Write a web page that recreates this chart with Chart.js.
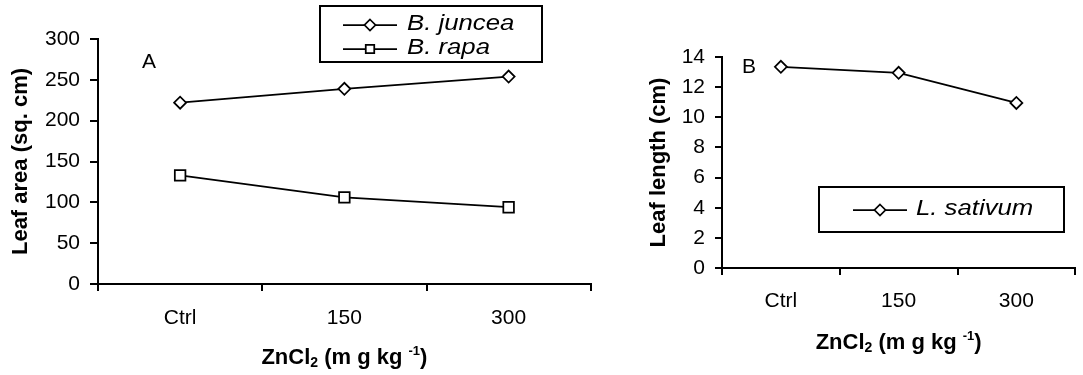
<!DOCTYPE html>
<html>
<head>
<meta charset="utf-8">
<script src="https://cdn.jsdelivr.net/npm/chart.js"></script>
<style>
  html, body { margin: 0; padding: 0; background: #fff; }
  #wrap { position: relative; width: 1083px; height: 375px; overflow: hidden; }
  #chartA { position: absolute; left: 0; top: 0; }
  #chartB { position: absolute; left: 600px; top: 0; }
</style>
</head>
<body>
<div id="wrap">
  <canvas id="chartA" width="600" height="375"></canvas>
  <canvas id="chartB" width="483" height="375"></canvas>
</div>
<script>
/* Two-panel figure: leaf area (A) and leaf length (B) vs ZnCl2 dose. */

// ── data ────────────────────────────────────────────
const doses = ["Ctrl", "150", "300"];

const junceaArea   = [222, 239, 254];
const rapaArea     = [133, 106, 94];
const sativumLength = [13.35, 12.95, 10.95];

const areaTicks   = { min: 0, max: 300, step: 50 };
const lengthTicks = { min: 0, max: 14, step: 2 };

const seriesNamesA = ["B. juncea", "B. rapa"];
const seriesNamesB = ["L. sativum"];

const yTitleA = "Leaf area (sq. cm)";
const yTitleB = "Leaf length (cm)";

// x title pieces: text, font size, baseline shift (sub/superscript)
const xTitleParts = [
  { t: "ZnCl",      s: 22, dy: 0 },
  { t: "2",         s: 14, dy: 3 },
  { t: " (m g kg ", s: 22, dy: 0 },
  { t: "-1",        s: 13, dy: -9 },
  { t: ")",         s: 22, dy: 0 },
];

// ── shared look ─────────────────────────────────────
const FONT = "'Liberation Sans', Arial, sans-serif";
Chart.defaults.font.family = FONT;
Chart.defaults.color = "#000";

const marker = (ctx, style, x, y, r) => {
  ctx.beginPath();
  if (style === "rect") {
    const h = r * Math.SQRT1_2;
    ctx.rect(x - h, y - h, 2 * h, 2 * h);
  } else {
    ctx.moveTo(x, y - r);
    ctx.lineTo(x + r, y);
    ctx.lineTo(x, y + r);
    ctx.lineTo(x - r, y);
    ctx.closePath();
  }
  ctx.fillStyle = "#fff";
  ctx.fill();
  ctx.lineWidth = 1.75;
  ctx.strokeStyle = "#000";
  ctx.stroke();
};

const drawXTitle = (ctx, cx, baseline) => {
  let total = 0;
  xTitleParts.forEach((p) => {
    ctx.font = "bold " + p.s + "px " + FONT;
    p.w = ctx.measureText(p.t).width;
    total += p.w;
  });
  let x = cx - total / 2;
  ctx.textAlign = "left";
  ctx.textBaseline = "alphabetic";
  xTitleParts.forEach((p) => {
    ctx.font = "bold " + p.s + "px " + FONT;
    ctx.fillText(p.t, x, baseline + p.dy);
    x += p.w;
  });
};

// panel letter, boxed legend and x title
const deco = {
  id: "deco",
  afterDraw(chart, args, o) {
    const ctx = chart.ctx;
    const area = chart.chartArea;
    ctx.save();
    ctx.fillStyle = "#000";

    ctx.font = "21px " + FONT;
    ctx.textAlign = "center";
    ctx.textBaseline = "alphabetic";
    ctx.fillText(o.letter, o.letterX, o.letterY);

    drawXTitle(ctx, (area.left + area.right) / 2, o.titleY);

    const b = o.box;
    ctx.lineWidth = 2;
    ctx.strokeStyle = "#000";
    ctx.strokeRect(b.x, b.y, b.w, b.h);

    chart.data.datasets.forEach((ds, i) => {
      const y = o.rowY[i];
      ctx.beginPath();
      ctx.moveTo(o.lineX0, y);
      ctx.lineTo(o.lineX1, y);
      ctx.lineWidth = 1.75;
      ctx.strokeStyle = "#000";
      ctx.stroke();
      marker(ctx, ds.pointStyle, (o.lineX0 + o.lineX1) / 2, y, ds.pointStyle === "rect" ? 6 : 5.5);

      ctx.save();
      ctx.translate(o.textX, y - 1);
      ctx.scale(1.17, 1);
      ctx.fillStyle = "#000";
      ctx.font = "italic 22px " + FONT;
      ctx.textAlign = "left";
      ctx.textBaseline = "middle";
      ctx.fillText(ds.label, 0, 0);
      ctx.restore();
    });
    ctx.restore();
  },
};

const line = (label, data, style, radius) => ({
  label,
  data,
  borderColor: "#000",
  borderWidth: 1.75,
  pointStyle: style,
  pointRadius: radius,
  pointHoverRadius: radius,
  pointBackgroundColor: "#fff",
  pointBorderColor: "#000",
  pointBorderWidth: 1.75,
  tension: 0,
  fill: false,
});

const makeOptions = (cfg) => ({
  responsive: false,
  animation: false,
  devicePixelRatio: 1,
  layout: { padding: { top: cfg.top, right: cfg.right, left: 0, bottom: 0 } },
  plugins: {
    legend: { display: false },
    tooltip: { enabled: false },
    deco: cfg.deco,
  },
  scales: {
    x: {
      type: "category",
      offset: true,
      afterFit: (s) => { s.height = cfg.xHeight; },
      grid: { offset: true, drawOnChartArea: false, drawTicks: true, tickLength: 7, color: "#000", lineWidth: 2 },
      border: { display: true, color: "#000", width: 2 },
      ticks: { color: "#000", font: { size: 21 }, padding: cfg.xPad, maxRotation: 0 },
    },
    y: {
      min: cfg.ticks.min,
      max: cfg.ticks.max,
      afterFit: (s) => { s.width = cfg.yWidth; },
      grid: { drawOnChartArea: false, drawTicks: true, tickLength: cfg.yTick, color: "#000", lineWidth: 2 },
      border: { display: true, color: "#000", width: 2 },
      ticks: { stepSize: cfg.ticks.step, color: "#000", font: { size: 21 }, padding: 10 },
      title: {
        display: true,
        text: cfg.yTitle,
        color: "#000",
        font: { size: 22, weight: "bold" },
        padding: { top: cfg.titlePad, bottom: 0 },
      },
    },
  },
});

/* ── Panel A: leaf area ─────────────────────────────── */
new Chart(document.getElementById("chartA"), {
  type: "line",
  data: {
    labels: doses,
    datasets: [
      line(seriesNamesA[0], junceaArea, "rectRot", 6),
      line(seriesNamesA[1], rapaArea, "rect", 7.5),
    ],
  },
  options: makeOptions({
    top: 39, right: 7, xHeight: 91, yWidth: 98, yTick: 8, xPad: 15, titlePad: 8,
    ticks: areaTicks, yTitle: yTitleA,
    deco: {
      letter: "A", letterX: 149, letterY: 68, titleY: 364,
      box: { x: 320, y: 6, w: 222, h: 56 },
      rowY: [25, 49], lineX0: 343, lineX1: 397, textX: 407,
    },
  }),
  plugins: [deco],
});

/* ── Panel B: leaf length ───────────────────────────── */
new Chart(document.getElementById("chartB"), {
  type: "line",
  data: {
    labels: doses,
    datasets: [line(seriesNamesB[0], sativumLength, "rectRot", 6)],
  },
  options: makeOptions({
    top: 57, right: 1, xHeight: 107, yWidth: 122, yTick: 7, xPad: 14, titlePad: 46,
    ticks: lengthTicks, yTitle: yTitleB,
    deco: {
      letter: "B", letterX: 149, letterY: 73, titleY: 349,
      box: { x: 219, y: 187, w: 245, h: 45 },
      rowY: [210], lineX0: 253, lineX1: 307, textX: 316,
    },
  }),
  plugins: [deco],
});
</script>
</body>
</html>
